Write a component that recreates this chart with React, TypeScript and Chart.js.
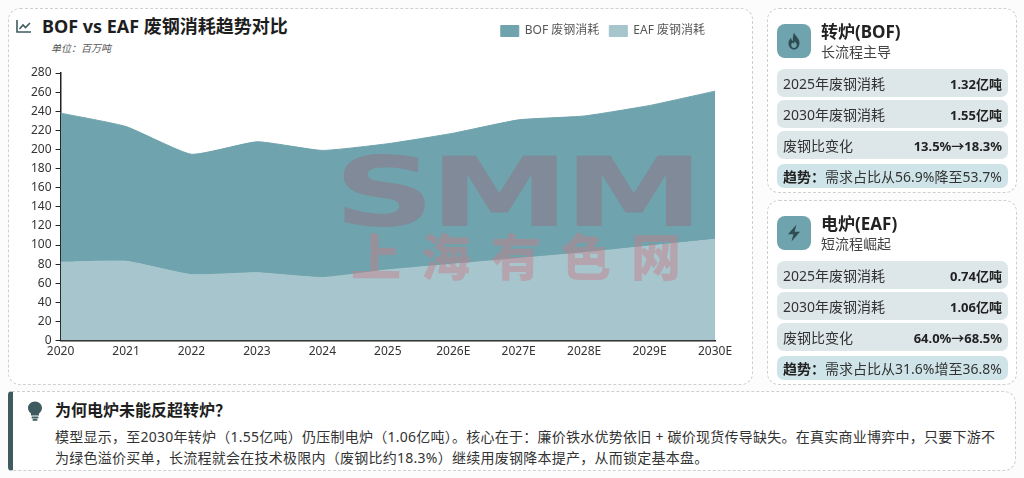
import React, { useEffect, useRef } from 'react';
import { Chart, registerables } from 'chart.js';

Chart.register(...registerables);

const years = ['2020', '2021', '2022', '2023', '2024', '2025', '2026E', '2027E', '2028E', '2029E', '2030E'];
const bofScrap = [156, 141, 126, 137, 133, 132, 137, 145, 143, 147, 155];
const eafScrap = [82, 83, 69, 71, 66, 74, 80, 86, 92, 99, 106];
const yMax = 280;
const yStep = 20;

const BOF_COLOR = '#6fa3ad';
const EAF_COLOR = '#a6c5cc';
const FONT = '"Noto Sans", "Noto Sans CJK SC", sans-serif';

// push the plot down below the legend row
const legendGap = {
  id: 'legendGap',
  beforeInit(chart: any) {
    const fit = chart.legend.fit;
    chart.legend.fit = function () {
      fit.bind(chart.legend)();
      this.height += 26;
    };
  },
};

const TrendChart: React.FC = () => {
  const canvasRef = useRef<HTMLCanvasElement>(null);
  const chartRef = useRef<Chart | null>(null);

  useEffect(() => {
    if (!canvasRef.current) return;
    if (chartRef.current) chartRef.current.destroy();
    const ctx = canvasRef.current.getContext('2d');
    if (!ctx) return;

    chartRef.current = new Chart(ctx, {
      type: 'line',
      data: {
        labels: years,
        datasets: [
          {
            label: 'EAF 废钢消耗',
            data: eafScrap,
            backgroundColor: EAF_COLOR,
            borderColor: EAF_COLOR,
            borderWidth: 1,
            fill: 'origin',
            pointRadius: 0,
            tension: 0.15,
          },
          {
            label: 'BOF 废钢消耗',
            data: bofScrap,
            backgroundColor: BOF_COLOR,
            borderColor: BOF_COLOR,
            borderWidth: 1,
            fill: '-1',
            pointRadius: 0,
            tension: 0.15,
          },
        ],
      },
      options: {
        responsive: true,
        maintainAspectRatio: false,
        animation: false,
        layout: { padding: { left: 10, right: 30, top: 0, bottom: 0 } },
        plugins: {
          legend: {
            position: 'top',
            align: 'end',
            reverse: true,
            labels: {
              boxWidth: 18,
              boxHeight: 11,
              padding: 10,
              color: '#555',
              font: { family: FONT, size: 12 },
            },
          },
          tooltip: { enabled: false },
        },
        scales: {
          x: {
            stacked: true,
            offset: false,
            grid: { drawOnChartArea: false, drawTicks: false },
            border: { display: true, color: '#222', width: 1.5 },
            ticks: {
              color: '#333',
              padding: 4,
              maxRotation: 0,
              font: { family: FONT, size: 12 },
            },
          },
          y: {
            stacked: true,
            min: 0,
            max: yMax,
            grid: { drawOnChartArea: false, drawTicks: true, tickLength: 5, color: '#222' },
            border: { display: true, color: '#222', width: 1.5 },
            ticks: {
              stepSize: yStep,
              color: '#333',
              padding: 4,
              font: { family: FONT, size: 12 },
            },
          },
        },
      },
      plugins: [legendGap],
    });

    return () => {
      if (chartRef.current) {
        chartRef.current.destroy();
        chartRef.current = null;
      }
    };
  }, []);

  return <canvas ref={canvasRef}></canvas>;
};

const dashedCard: React.CSSProperties = {
  position: 'absolute',
  border: '1px dashed #cfcfcf',
  borderRadius: 12,
  background: '#fff',
  boxSizing: 'border-box',
};

interface StatRow {
  label: string;
  value: string;
}

interface ProcessCardProps {
  top: number;
  title: string;
  subtitle: string;
  icon: 'flame' | 'bolt';
  rows: StatRow[];
  trendText: string;
}

const FlameIcon = () => (
  <svg width="16" height="18" viewBox="0 0 16 18">
    <path
      d="M8 0.5 C9 4 13.5 6 13.5 11 C13.5 14.8 11 17.5 8 17.5 C5 17.5 2.5 14.8 2.5 11.2 C2.5 8.5 4 7 5 5.8 C5.3 7.6 6 8.6 7 9 C6.5 6 7.2 3 8 0.5 Z M8 16 C9.6 16 10.8 14.8 10.8 13.1 C10.8 11.4 9.5 10.4 8.7 9.2 C8.5 10.5 7.8 11.3 7 11.5 C6.8 11 6.6 10.7 6.3 10.5 C5.7 11.3 5.2 12.1 5.2 13.1 C5.2 14.8 6.4 16 8 16 Z"
      fill="#2f4d53"
      fillRule="evenodd"
    />
  </svg>
);

const BoltIcon = () => (
  <svg width="16" height="18" viewBox="0 0 16 18">
    <path d="M10.5 0.5 L2 10.2 H7.4 L5.5 17.5 L14 7.8 H8.6 Z" fill="#2f4d53" />
  </svg>
);

const ProcessCard: React.FC<ProcessCardProps> = ({ top, title, subtitle, icon, rows, trendText }) => (
  <div style={{ ...dashedCard, left: 767, top, width: 250, height: 185 }}>
    <div
      style={{
        position: 'absolute',
        left: 9,
        top: 15,
        width: 34,
        height: 34,
        borderRadius: 8,
        background: BOF_COLOR,
        display: 'flex',
        alignItems: 'center',
        justifyContent: 'center',
      }}
    >
      {icon === 'flame' ? <FlameIcon /> : <BoltIcon />}
    </div>
    <div style={{ position: 'absolute', left: 53, top: 12, fontSize: 17, fontWeight: 700, color: '#222', lineHeight: '22px' }}>
      {title}
    </div>
    <div style={{ position: 'absolute', left: 53, top: 33, fontSize: 14, color: '#444', lineHeight: '20px' }}>
      {subtitle}
    </div>
    {rows.map((r, i) => (
      <div
        key={r.label}
        style={{
          position: 'absolute',
          left: 9,
          right: 8,
          top: 60 + i * 31,
          height: 28,
          borderRadius: 7,
          background: '#dde7ea',
          display: 'flex',
          alignItems: 'center',
          justifyContent: 'space-between',
          padding: '0 6px',
          boxSizing: 'border-box',
        }}
      >
        <span style={{ fontSize: 14, color: '#333' }}>{r.label}</span>
        <span style={{ fontSize: 13, fontWeight: 700, color: '#222' }}>{r.value}</span>
      </div>
    ))}
    <div
      style={{
        position: 'absolute',
        left: 9,
        right: 8,
        top: 155,
        height: 24,
        borderRadius: 7,
        background: '#cfe4e9',
        display: 'flex',
        alignItems: 'center',
        padding: '0 6px',
        boxSizing: 'border-box',
        fontSize: 14,
        color: '#333',
        whiteSpace: 'nowrap',
      }}
    >
      <b style={{ color: '#222' }}>趋势：</b>
      {trendText}
    </div>
  </div>
);

const App: React.FC = () => {
  return (
    <div
      style={{
        position: 'fixed',
        left: 0,
        top: 0,
        width: 1024,
        height: 478,
        background: '#fcfcfc',
        fontFamily: FONT,
        overflow: 'hidden',
      }}
    >
      {/* main chart card */}
      <div style={{ ...dashedCard, left: 8, top: 8, width: 745, height: 377 }}>
        <svg style={{ position: 'absolute', left: 7, top: 10 }} width="16" height="14" viewBox="0 0 16 14">
          <path d="M1 1 V13 H15" stroke="#3e5b60" strokeWidth="1.6" fill="none" />
          <path d="M3.5 10 L7 6 L9.5 8.5 L14 4" stroke="#3e5b60" strokeWidth="1.6" fill="none" />
        </svg>
        <div style={{ position: 'absolute', left: 33, top: 5, fontSize: 18, fontWeight: 700, color: '#1e1e1e', lineHeight: '24px' }}>
          BOF vs EAF 废钢消耗趋势对比
        </div>
        <div style={{ position: 'absolute', left: 42, top: 31, fontSize: 10, fontStyle: 'italic', color: '#555' }}>
          单位：百万吨
        </div>
        <div style={{ position: 'absolute', left: 8, top: 6, width: 728, height: 348 }}>
          <TrendChart />
        </div>
        {/* watermark */}
        <div
          style={{
            position: 'absolute',
            left: 317,
            top: 136,
            width: 380,
            textAlign: 'center',
            pointerEvents: 'none',
            lineHeight: 1,
            whiteSpace: 'nowrap',
          }}
        >
          <div
            style={{
              fontFamily: '"DejaVu Sans", sans-serif',
              fontWeight: 900,
              fontSize: 96,
              color: 'rgba(135,130,145,0.75)',
              transform: 'scaleX(1.47)',
              letterSpacing: -4,
            }}
          >
            SMM
          </div>
          <div
            style={{
              fontFamily: '"Noto Sans CJK SC", sans-serif',
              fontWeight: 900,
              fontSize: 50,
              letterSpacing: 20,
              paddingLeft: 20,
              color: 'rgba(200,125,135,0.45)',
              marginTop: -12,
            }}
          >
            上海有色网
          </div>
        </div>
      </div>

      <ProcessCard
        top={8}
        title="转炉(BOF)"
        subtitle="长流程主导"
        icon="flame"
        rows={[
          { label: '2025年废钢消耗', value: '1.32亿吨' },
          { label: '2030年废钢消耗', value: '1.55亿吨' },
          { label: '废钢比变化', value: '13.5%→18.3%' },
        ]}
        trendText="需求占比从56.9%降至53.7%"
      />
      <ProcessCard
        top={200}
        title="电炉(EAF)"
        subtitle="短流程崛起"
        icon="bolt"
        rows={[
          { label: '2025年废钢消耗', value: '0.74亿吨' },
          { label: '2030年废钢消耗', value: '1.06亿吨' },
          { label: '废钢比变化', value: '64.0%→68.5%' },
        ]}
        trendText="需求占比从31.6%增至36.8%"
      />

      {/* bottom insight */}
      <div
        style={{
          ...dashedCard,
          left: 8,
          top: 391,
          width: 1008,
          height: 80,
          borderLeft: '5px solid #3e5b60',
          borderRadius: '4px 12px 12px 4px',
        }}
      >
        <svg style={{ position: 'absolute', left: 14, top: 9 }} width="16" height="20" viewBox="0 0 16 20">
          <path d="M8 0.5 C3.8 0.5 1 3.5 1 7 C1 9.6 2.6 11.2 4 12.6 V14.5 H12 V12.6 C13.4 11.2 15 9.6 15 7 C15 3.5 12.2 0.5 8 0.5 Z" fill="#3e5b60" />
          <rect x="4.5" y="15.6" width="7" height="1.8" rx="0.9" fill="#3e5b60" />
          <rect x="5.5" y="18" width="5" height="1.8" rx="0.9" fill="#3e5b60" />
        </svg>
        <div style={{ position: 'absolute', left: 42, top: 7, fontSize: 16, fontWeight: 700, color: '#1e1e1e', lineHeight: '22px' }}>
          为何电炉未能反超转炉？
        </div>
        <div
          style={{
            position: 'absolute',
            left: 42,
            top: 34,
            fontSize: 14,
            letterSpacing: 0.25,
            color: '#333',
            lineHeight: '21px',
            whiteSpace: 'nowrap',
          }}
        >
          模型显示，至2030年转炉（1.55亿吨）仍压制电炉（1.06亿吨）。核心在于：廉价铁水优势依旧 + 碳价现货传导缺失。在真实商业博弈中，只要下游不
          <br />
          为绿色溢价买单，长流程就会在技术极限内（废钢比约18.3%）继续用废钢降本提产，从而锁定基本盘。
        </div>
      </div>
    </div>
  );
};

export default App;
